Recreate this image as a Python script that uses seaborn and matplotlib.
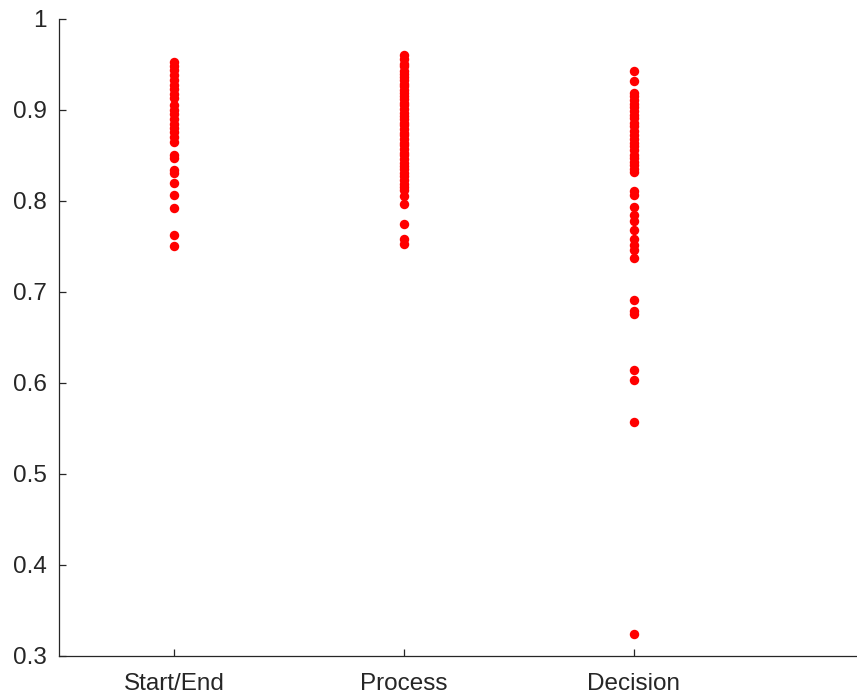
import matplotlib
matplotlib.use("Agg")
import matplotlib.pyplot as plt
import seaborn as sns
import pandas as pd

categories = ["Start/End", "Process", "Decision"]

start_end = [0.953, 0.948, 0.944, 0.938, 0.933, 0.927, 0.923, 0.918, 0.913,
             0.905, 0.900, 0.896, 0.890, 0.885, 0.880, 0.876, 0.870, 0.865,
             0.851, 0.847, 0.834, 0.831, 0.820, 0.807, 0.792, 0.763, 0.751]

process = [0.960, 0.956, 0.951, 0.948, 0.943, 0.940, 0.936, 0.933, 0.929,
           0.926, 0.922, 0.919, 0.915, 0.912, 0.908, 0.905, 0.901, 0.897,
           0.893, 0.890, 0.886, 0.883, 0.879, 0.875, 0.872, 0.868, 0.864,
           0.861, 0.857, 0.853, 0.850, 0.846, 0.842, 0.838, 0.835, 0.831,
           0.827, 0.823, 0.819, 0.815, 0.812, 0.806, 0.797, 0.775, 0.758,
           0.753]

decision = [0.943, 0.932, 0.919, 0.915, 0.911, 0.907, 0.903, 0.899, 0.895,
            0.891, 0.886, 0.882, 0.877, 0.873, 0.868, 0.864, 0.860, 0.856,
            0.851, 0.847, 0.843, 0.839, 0.835, 0.832, 0.811, 0.807, 0.793,
            0.785, 0.778, 0.768, 0.758, 0.752, 0.746, 0.737, 0.691, 0.679,
            0.676, 0.614, 0.603, 0.557, 0.324]

y_ticks = [0.3, 0.4, 0.5, 0.6, 0.7, 0.8, 0.9, 1.0]
y_tick_labels = ["0.3", "0.4", "0.5", "0.6", "0.7", "0.8", "0.9", "1"]

df = pd.DataFrame({
    "category": (["Start/End"] * len(start_end) + ["Process"] * len(process)
                 + ["Decision"] * len(decision)),
    "value": start_end + process + decision,
})

sns.set_style("white")
plt.rcParams["font.family"] = ["Liberation Sans", "DejaVu Sans"]

fig = plt.figure(figsize=(8.57, 7.0), dpi=100)
ax = fig.add_axes([0.0688, 0.0629, 0.9312, 0.91])

sns.stripplot(data=df, x="category", y="value", order=categories,
              jitter=False, color="#ff0000", size=6.8, linewidth=0, ax=ax)

ax.set_xlim(-0.5, 2.97)
ax.set_ylim(0.3, 1.0)
ax.set_yticks(y_ticks)
ax.set_yticklabels(y_tick_labels)
ax.set_xlabel("")
ax.set_ylabel("")

for side in ["top", "right"]:
    ax.spines[side].set_visible(False)
for side in ["left", "bottom"]:
    ax.spines[side].set_color("#262626")
    ax.spines[side].set_linewidth(0.9)

ax.tick_params(axis="both", direction="in", length=5, width=0.9,
               bottom=True, left=True,
               color="#262626", labelcolor="#262626", labelsize=17.5)
ax.tick_params(axis="y", pad=9)
ax.tick_params(axis="x", pad=12)

fig.savefig("out.png", dpi=100)
